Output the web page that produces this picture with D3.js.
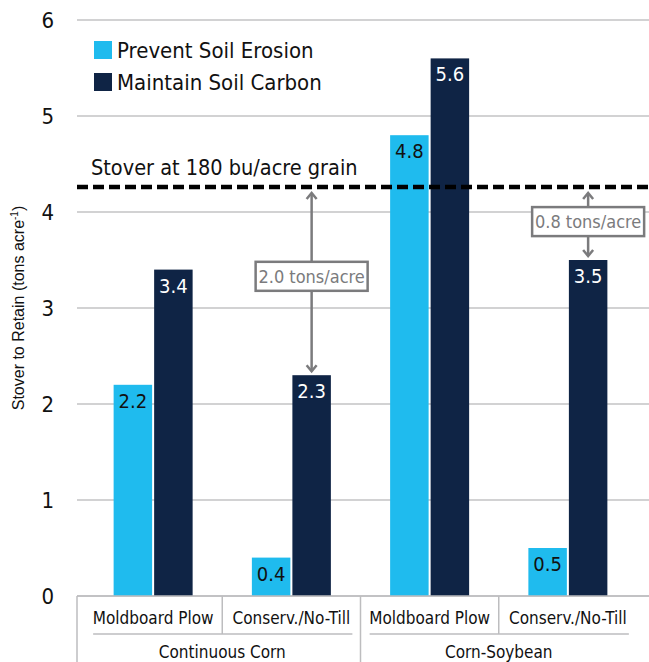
<!DOCTYPE html>
<html>
<head>
<meta charset="utf-8">
<script src="https://cdn.jsdelivr.net/npm/d3@7"></script>
<style>
  body { margin: 0; background: #fff; }
  text { font-family: "Liberation Sans Narrow", "DejaVu Sans Condensed", sans-serif; }
</style>
</head>
<body>
<div id="chart"></div>
<script>
const width = 649;
const height = 662;

const categories = ["CC-MP", "CC-NT", "CS-MP", "CS-NT"];
const catLabels = ["Moldboard Plow", "Conserv./No-Till", "Moldboard Plow", "Conserv./No-Till"];
const groups = ["Continuous Corn", "Corn-Soybean"];
const series = ["Prevent Soil Erosion", "Maintain Soil Carbon"];
const erosion = [2.2, 0.4, 4.8, 0.5];
const carbon = [3.4, 2.3, 5.6, 3.5];
const yTicks = [0, 1, 2, 3, 4, 5, 6];
const stoverLine = 4.26;
const gaps = [
  { cat: "CC-NT", label: "2.0 tons/acre", top: 4.26, bottom: 2.3, boxAt: 3.33 },
  { cat: "CS-NT", label: "0.8 tons/acre", top: 4.26, bottom: 3.5, boxAt: 3.9 }
];

const colors = ["#1fbbee", "#0f2445"];
const gray = "#7b7b7d";

const svg = d3.select("#chart").append("svg").attr("width", width).attr("height", height);

const left = 77, right = 649;
const y = d3.scaleLinear().domain([0, 6]).range([596, 20]);
const x = d3.scaleBand().domain(categories).range([84, 637]);
const xs = d3.scaleBand().domain(series).range([-39.5, 39.5]).paddingInner(0.05);

// grid
svg.append("g")
  .selectAll("line")
  .data(yTicks)
  .join("line")
  .attr("x1", left).attr("x2", right)
  .attr("y1", (d) => y(d)).attr("y2", (d) => y(d))
  .attr("stroke", "#c3c3c5")
  .attr("stroke-width", 1.5);

svg.append("g")
  .selectAll("text")
  .data(yTicks)
  .join("text")
  .attr("x", 54)
  .attr("y", (d) => y(d))
  .attr("dy", "0.36em")
  .attr("text-anchor", "end")
  .attr("font-size", 22)
  .attr("fill", "#111")
  .text((d) => d);

// y title
svg.append("text")
  .attr("transform", `translate(24, ${y(3)}) rotate(-90)`)
  .attr("text-anchor", "middle")
  .style("font-family", "'Liberation Sans', Arial, sans-serif")
  .attr("font-size", 16)
  .attr("fill", "#111")
  .html('Stover to Retain (tons acre<tspan dy="-6" font-size="10">-1</tspan><tspan dy="6">)</tspan>');

// bars
const rows = categories.map((c, i) => ({ cat: c, values: [erosion[i], carbon[i]] }));
const bars = svg.append("g")
  .selectAll("g")
  .data(rows)
  .join("g")
  .attr("transform", (d) => `translate(${x(d.cat) + x.bandwidth() / 2},0)`);

bars.selectAll("rect")
  .data((d) => d.values.map((v, j) => ({ s: series[j], v, j })))
  .join("rect")
  .attr("x", (d) => xs(d.s))
  .attr("width", xs.bandwidth())
  .attr("y", (d) => y(d.v))
  .attr("height", (d) => y(0) - y(d.v))
  .attr("fill", (d) => colors[d.j]);

bars.selectAll("text")
  .data((d) => d.values.map((v, j) => ({ s: series[j], v, j })))
  .join("text")
  .attr("x", (d) => xs(d.s) + xs.bandwidth() / 2)
  .attr("y", (d) => y(d.v) + 23)
  .attr("text-anchor", "middle")
  .attr("font-size", 20)
  .attr("fill", (d) => (d.j === 0 ? "#111" : "#fff"))
  .text((d) => d.v.toFixed(1));

// stover dashed line
svg.append("line")
  .attr("x1", left).attr("x2", right)
  .attr("y1", y(stoverLine)).attr("y2", y(stoverLine))
  .attr("stroke", "#000")
  .attr("stroke-width", 4.5)
  .attr("stroke-dasharray", "11,5");

svg.append("text")
  .attr("x", 91)
  .attr("y", y(stoverLine) - 12)
  .attr("font-size", 21.5)
  .attr("fill", "#111")
  .text("Stover at 180 bu/acre grain");

// gap annotations
const ann = svg.append("g")
  .selectAll("g")
  .data(gaps)
  .join("g")
  .attr("transform", (d) => `translate(${x(d.cat) + x.bandwidth() / 2 + xs(series[1]) + xs.bandwidth() / 2},0)`);

ann.append("line")
  .attr("y1", (d) => y(d.top) + 6)
  .attr("y2", (d) => y(d.bottom) - 4)
  .attr("stroke", gray)
  .attr("stroke-width", 2.5);

ann.append("path")
  .attr("d", (d) => `M-5,${y(d.top) + 12}L0,${y(d.top) + 6}L5,${y(d.top) + 12}`)
  .attr("fill", "none").attr("stroke", gray).attr("stroke-width", 2.5);

ann.append("path")
  .attr("d", (d) => `M-5,${y(d.bottom) - 10}L0,${y(d.bottom) - 4}L5,${y(d.bottom) - 10}`)
  .attr("fill", "none").attr("stroke", gray).attr("stroke-width", 2.5);

ann.append("rect")
  .attr("x", -56)
  .attr("y", (d) => y(d.boxAt) - 14.5)
  .attr("width", 112)
  .attr("height", 29)
  .attr("fill", "#fff")
  .attr("stroke", gray)
  .attr("stroke-width", 2.5);

ann.append("text")
  .attr("y", (d) => y(d.boxAt))
  .attr("dy", "0.36em")
  .attr("text-anchor", "middle")
  .attr("font-size", 18)
  .attr("fill", gray)
  .text((d) => d.label);

// legend
const legend = svg.append("g").attr("transform", "translate(94,41)");
legend.selectAll("rect")
  .data(series)
  .join("rect")
  .attr("y", (d, i) => i * 32)
  .attr("width", 18).attr("height", 18)
  .attr("fill", (d, i) => colors[i]);
legend.selectAll("text")
  .data(series)
  .join("text")
  .attr("x", 23)
  .attr("y", (d, i) => i * 32 + 9)
  .attr("dy", "0.36em")
  .attr("font-size", 22)
  .attr("fill", "#111")
  .text((d) => d);

// category axis table
const axisG = svg.append("g").attr("stroke", "#bdbdbf").attr("stroke-width", 1.5);
const bounds = categories.map((c) => x(c)).concat([x.range()[1]]);
axisG.append("line").attr("x1", left).attr("x2", right).attr("y1", 596).attr("y2", 596);
axisG.append("line").attr("x1", left).attr("x2", left).attr("y1", 596).attr("y2", height);
axisG.selectAll(".sep")
  .data([bounds[1], bounds[2], bounds[3]])
  .join("line")
  .attr("x1", (d) => d).attr("x2", (d) => d)
  .attr("y1", 596)
  .attr("y2", (d, i) => (i === 1 ? height : 634));
axisG.selectAll(".under")
  .data(groups)
  .join("line")
  .attr("x1", (d, i) => x(categories[i * 2]) + x.bandwidth() / 2 - 60)
  .attr("x2", (d, i) => x(categories[i * 2 + 1]) + x.bandwidth() / 2 + 61)
  .attr("y1", 634).attr("y2", 634);

svg.append("g")
  .selectAll("text")
  .data(categories)
  .join("text")
  .attr("x", (d) => x(d) + x.bandwidth() / 2)
  .attr("y", 618)
  .attr("dy", "0.36em")
  .attr("text-anchor", "middle")
  .attr("font-size", 17)
  .attr("fill", "#111")
  .text((d, i) => catLabels[i]);

svg.append("g")
  .selectAll("text")
  .data(groups)
  .join("text")
  .attr("x", (d, i) => (x(categories[i * 2]) + x(categories[i * 2 + 1]) + x.bandwidth()) / 2)
  .attr("y", 652)
  .attr("dy", "0.36em")
  .attr("text-anchor", "middle")
  .attr("font-size", 17)
  .attr("fill", "#111")
  .text((d) => d);
</script>
</body>
</html>
